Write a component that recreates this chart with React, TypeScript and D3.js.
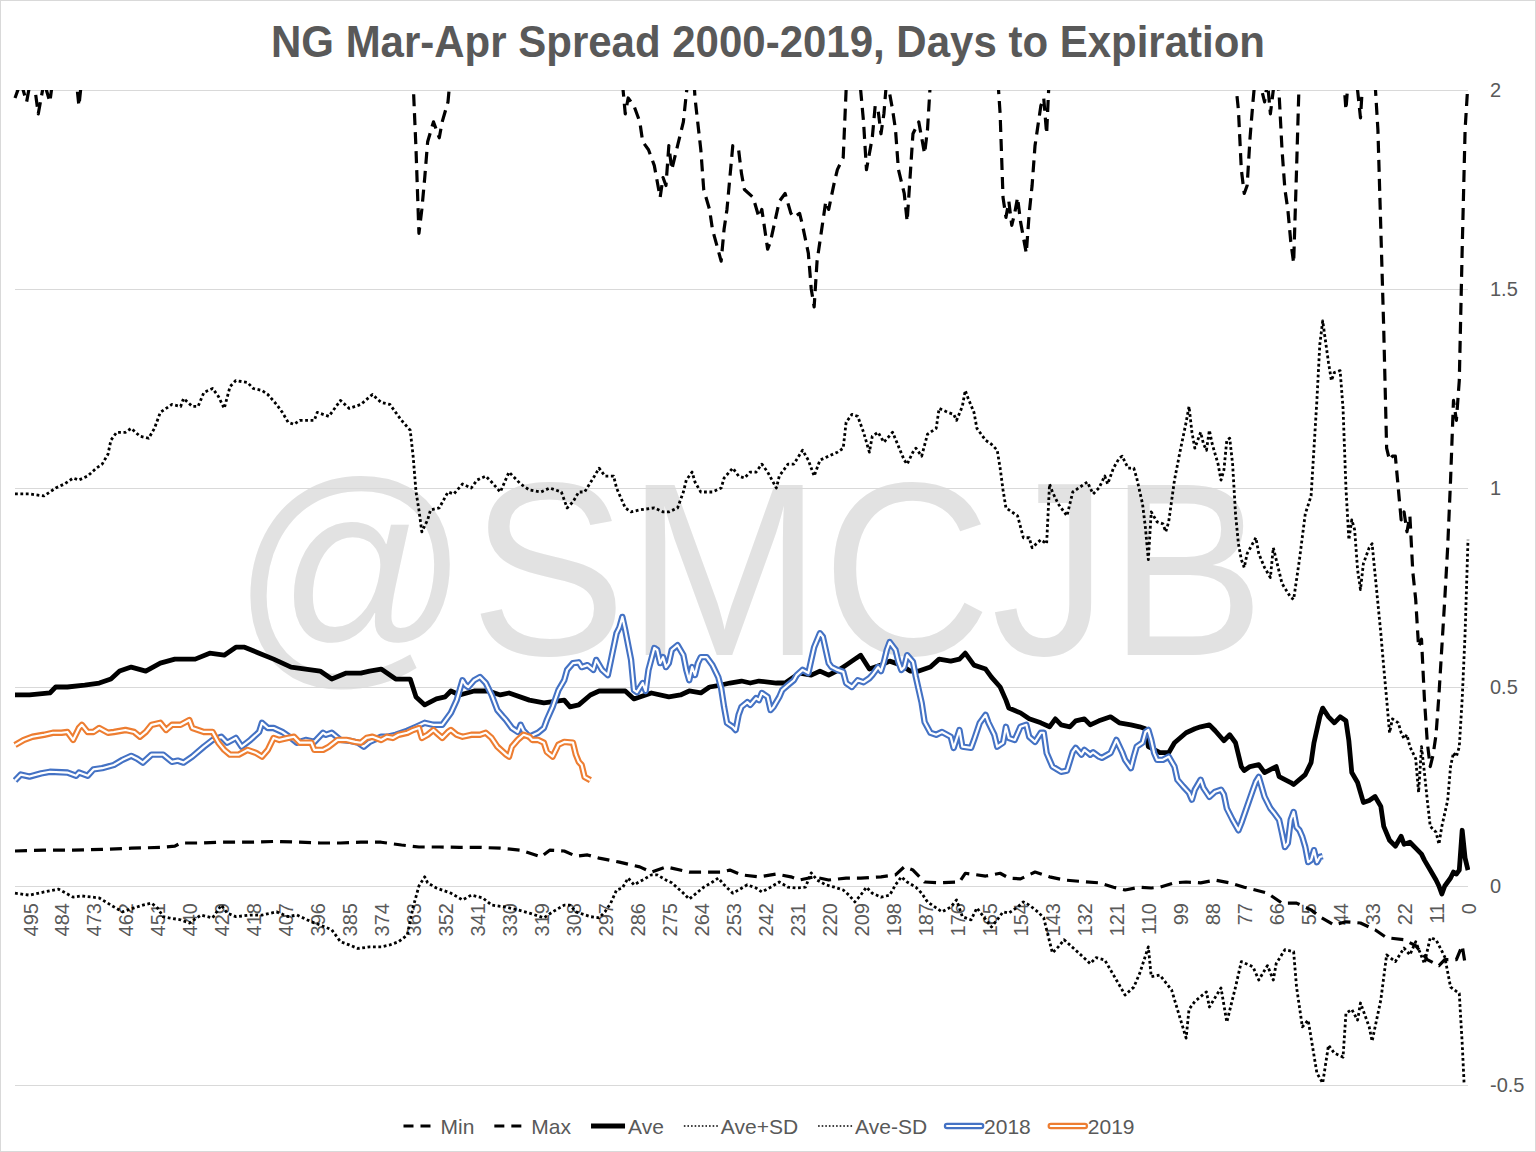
import React, { useEffect, useRef } from 'react';
import * as d3 from 'd3';

type Pt = [number, number];

// days to expiration shown on the category axis
const dayTicks = [495, 484, 473, 462, 451, 440, 429, 418, 407, 396, 385, 374, 363, 352, 341, 330, 319, 308, 297, 286, 275, 264, 253, 242, 231, 220, 209, 198, 187, 176, 165, 154, 143, 132, 121, 110, 99, 88, 77, 66, 55, 44, 33, 22, 11, 0];
const valueTicks = [2, 1.5, 1, 0.5, 0, -0.5];

// [days to expiration, spread]
const minSeries: Pt[] = [
  [500, 0.088], [490, 0.09], [480, 0.09], [470, 0.092], [460, 0.095], [450, 0.097], [445, 0.1], [443, 0.108], [436, 0.108], [430, 0.11],
  [420, 0.11], [410, 0.112], [402, 0.11], [395, 0.108], [388, 0.108], [381, 0.11], [374, 0.11], [367, 0.103], [361, 0.098], [354, 0.098],
  [347, 0.097], [340, 0.097], [333, 0.095], [326, 0.09], [319, 0.073], [316, 0.09], [311, 0.088], [307, 0.075], [303, 0.078], [299, 0.07],
  [292, 0.06], [285, 0.048], [281, 0.035], [276, 0.048], [268, 0.035], [257, 0.035], [254, 0.04], [250, 0.028], [244, 0.023], [238, 0.03],
  [233, 0.023], [230, 0.015], [225, 0.023], [220, 0.015], [214, 0.02], [209, 0.02], [202, 0.023], [197, 0.028], [194, 0.048], [191, 0.04],
  [187, 0.01], [182, 0.008], [175, 0.01], [173, 0.032], [166, 0.025], [161, 0.032], [158, 0.02], [154, 0.018], [149, 0.035], [144, 0.023],
  [139, 0.015], [134, 0.012], [127, 0.008], [122, -0.003], [118, -0.01], [113, -0.003], [109, -0.005], [106, -0.003], [101, 0.008], [97, 0.01],
  [92, 0.008], [87, 0.015], [82, 0.008], [77, -0.003], [69, -0.018], [64, -0.043], [59, -0.043], [54, -0.06], [51, -0.077], [46, -0.098],
  [42, -0.09], [37, -0.093], [32, -0.11], [28, -0.13], [22, -0.135], [18, -0.15], [14, -0.185], [10, -0.2], [8, -0.185], [4, -0.185],
  [2, -0.15], [1, -0.195], [0, -0.2],
];

const maxSeries: Pt[] = [
  [500, 1.98], [498, 2.02], [496, 1.97], [494, 2.05], [492, 1.94], [490, 2.02], [488, 1.97], [486, 2.08], [483, 2.15], [480, 2.1],
  [478, 1.96], [476, 2.1], [470, 2.3], [460, 2.4], [450, 2.5], [440, 2.45], [430, 2.6], [420, 2.5], [410, 2.4], [400, 2.45],
  [390, 2.35], [380, 2.3], [372, 2.2], [367, 2.1], [365, 2.15], [364, 2.0], [363, 2.02], [362, 1.85], [361, 1.64], [360, 1.7],
  [359, 1.78], [358, 1.87], [356, 1.92], [354, 1.88], [353, 1.92], [351, 1.97], [350, 2.05], [348, 2.2], [340, 2.4], [330, 2.5],
  [320, 2.4], [310, 2.45], [300, 2.3], [294, 2.1], [291, 2.02], [290, 1.94], [289, 1.98], [287, 1.96], [285, 1.92], [284, 1.87],
  [282, 1.85], [280, 1.81], [278, 1.73], [277, 1.78], [276, 1.76], [275, 1.86], [274, 1.8], [272, 1.86], [270, 1.92], [269, 1.99],
  [268, 2.05], [267, 2.1], [266, 1.98], [264, 1.85], [263, 1.75], [261, 1.7], [260, 1.65], [257, 1.57], [256, 1.65], [255, 1.7],
  [253, 1.86], [251, 1.85], [250, 1.79], [249, 1.75], [246, 1.73], [244, 1.68], [243, 1.7], [241, 1.6], [240, 1.62], [237, 1.72],
  [235, 1.74], [233, 1.69], [232, 1.68], [230, 1.69], [229, 1.66], [227, 1.59], [226, 1.5], [225, 1.455], [224, 1.57], [222, 1.67],
  [221, 1.72], [220, 1.7], [218, 1.77], [217, 1.8], [215, 1.83], [214, 2.0], [213, 2.15], [211, 2.2], [210, 2.05], [209, 2.0],
  [208, 1.92], [207, 1.8], [205, 1.88], [204, 1.96], [203, 1.95], [202, 1.89], [201, 1.94], [200, 2.03], [198, 1.95], [197, 1.9],
  [196, 1.8], [194, 1.74], [193, 1.67], [192, 1.78], [191, 1.89], [189, 1.92], [188, 1.88], [187, 1.84], [186, 1.9], [185, 2.02],
  [183, 2.2], [175, 2.4], [168, 2.3], [163, 2.1], [162, 2.05], [161, 1.94], [160, 1.73], [159, 1.68], [158, 1.72], [157, 1.66],
  [156, 1.69], [155, 1.73], [154, 1.67], [152, 1.59], [151, 1.69], [150, 1.76], [149, 1.86], [148, 1.91], [147, 1.96], [146, 1.98],
  [145, 1.89], [144, 2.05], [140, 2.2], [130, 2.4], [120, 2.5], [110, 2.4], [100, 2.5], [90, 2.35], [82, 2.15], [80, 2.02],
  [79, 1.95], [78, 1.8], [77, 1.74], [76, 1.76], [75, 1.88], [74, 1.97], [73, 2.05], [72, 2.1], [71, 2.0], [70, 1.97],
  [69, 2.02], [68, 1.94], [67, 2.0], [66, 2.05], [65, 1.99], [64, 1.85], [63, 1.75], [62, 1.7], [61, 1.62], [60, 1.565],
  [59, 1.8], [58, 2.05], [55, 2.2], [50, 2.3], [45, 2.15], [43, 2.05], [42, 1.95], [41, 2.05], [40, 2.1], [38, 2.0],
  [37, 1.93], [36, 2.05], [34, 2.15], [32, 2.02], [31, 1.9], [30, 1.65], [29, 1.4], [28, 1.1], [27, 1.07], [26, 1.08],
  [25, 1.08], [24, 1.0], [23, 0.92], [22, 0.94], [21, 0.89], [20, 0.93], [19, 0.79], [18, 0.72], [17, 0.6], [16, 0.62],
  [15, 0.47], [14, 0.36], [13, 0.3], [12, 0.33], [11, 0.38], [10, 0.48], [9, 0.6], [8, 0.72], [7, 0.85], [6, 1.02],
  [5, 1.22], [4, 1.17], [3, 1.27], [2, 1.6], [1, 1.9], [0, 2.02],
];

const aveSeries: Pt[] = [
  [500, 0.48], [495, 0.48], [488, 0.485], [486, 0.5], [482, 0.5], [476, 0.505], [471, 0.51], [467, 0.52], [464, 0.54], [460, 0.55],
  [455, 0.54], [450, 0.56], [445, 0.57], [438, 0.57], [433, 0.585], [428, 0.58], [424, 0.6], [421, 0.6], [416, 0.585], [411, 0.57],
  [405, 0.55], [400, 0.545], [395, 0.54], [391, 0.52], [386, 0.535], [381, 0.535], [378, 0.54], [374, 0.545], [369, 0.52], [364, 0.52],
  [362, 0.475], [359, 0.455], [355, 0.47], [352, 0.475], [350, 0.49], [347, 0.48], [342, 0.49], [337, 0.49], [333, 0.48], [330, 0.485],
  [323, 0.467], [318, 0.46], [311, 0.467], [309, 0.45], [306, 0.455], [302, 0.48], [299, 0.49], [290, 0.49], [287, 0.47], [281, 0.485],
  [275, 0.475], [271, 0.48], [268, 0.49], [264, 0.485], [261, 0.5], [257, 0.505], [254, 0.51], [250, 0.515], [247, 0.51], [244, 0.515],
  [238, 0.51], [235, 0.51], [232, 0.525], [230, 0.535], [226, 0.53], [223, 0.54], [220, 0.53], [216, 0.545], [214, 0.555], [211, 0.57],
  [209, 0.58], [206, 0.545], [202, 0.555], [199, 0.565], [195, 0.555], [192, 0.54], [189, 0.54], [185, 0.55], [182, 0.57], [178, 0.565],
  [175, 0.57], [173, 0.585], [170, 0.555], [166, 0.545], [164, 0.525], [161, 0.5], [159, 0.467], [158, 0.447], [154, 0.435], [151, 0.42],
  [147, 0.41], [144, 0.4], [142, 0.42], [140, 0.405], [137, 0.4], [135, 0.415], [132, 0.42], [130, 0.405], [127, 0.415], [123, 0.425],
  [120, 0.41], [116, 0.405], [113, 0.4], [111, 0.395], [110, 0.35], [106, 0.335], [103, 0.335], [101, 0.36], [97, 0.385], [94, 0.395],
  [92, 0.4], [89, 0.405], [87, 0.39], [84, 0.365], [82, 0.38], [80, 0.36], [78, 0.3], [77, 0.29], [75, 0.3], [72, 0.305],
  [70, 0.285], [66, 0.3], [65, 0.275], [61, 0.26], [60, 0.255], [56, 0.28], [54, 0.31], [53, 0.36], [51, 0.425], [50, 0.447],
  [48, 0.425], [46, 0.41], [44, 0.425], [42, 0.415], [41, 0.365], [40, 0.285], [38, 0.26], [36, 0.21], [34, 0.215], [32, 0.225],
  [30, 0.2], [29, 0.15], [27, 0.115], [25, 0.1], [23, 0.125], [22, 0.105], [20, 0.11], [18, 0.095], [16, 0.08], [15, 0.065],
  [13, 0.04], [11, 0.015], [10, 0.0], [9, -0.02], [8, 0.0], [7, 0.01], [6, 0.02], [5, 0.035], [4, 0.03], [3, 0.04],
  [2, 0.14], [1, 0.07], [0, 0.04],
];

const avePlusSd: Pt[] = [
  [500, 0.985], [495, 0.985], [490, 0.98], [486, 1.0], [483, 1.01], [480, 1.025], [478, 1.02], [475, 1.03], [472, 1.05], [470, 1.06],
  [468, 1.085], [467, 1.12], [465, 1.14], [462, 1.14], [460, 1.15], [457, 1.13], [454, 1.125], [452, 1.15], [450, 1.19], [448, 1.2],
  [446, 1.21], [443, 1.205], [442, 1.225], [439, 1.205], [437, 1.205], [435, 1.24], [432, 1.25], [430, 1.23], [428, 1.2], [426, 1.255],
  [424, 1.27], [420, 1.265], [418, 1.25], [415, 1.245], [413, 1.235], [410, 1.21], [408, 1.19], [406, 1.165], [404, 1.16], [402, 1.17],
  [397, 1.17], [396, 1.19], [392, 1.18], [388, 1.22], [385, 1.2], [381, 1.21], [377, 1.235], [374, 1.215], [371, 1.21], [369, 1.19],
  [367, 1.17], [364, 1.145], [363, 1.08], [362, 0.99], [361, 0.945], [360, 0.89], [358, 0.92], [357, 0.945], [354, 0.95], [351, 0.99],
  [349, 0.985], [346, 1.01], [343, 1.0], [341, 1.02], [338, 1.03], [336, 1.015], [333, 0.99], [330, 1.04], [326, 1.01], [323, 0.995],
  [319, 0.99], [316, 1.0], [312, 0.99], [310, 0.95], [308, 0.965], [306, 0.99], [304, 0.99], [301, 1.025], [299, 1.05], [297, 1.03],
  [294, 1.03], [293, 1.0], [290, 0.95], [288, 0.94], [285, 0.945], [280, 0.95], [277, 0.94], [275, 0.94], [272, 0.95], [270, 0.99],
  [269, 1.02], [267, 1.04], [266, 1.015], [264, 0.99], [260, 0.99], [257, 1.0], [256, 1.025], [253, 1.05], [251, 1.03], [249, 1.025],
  [247, 1.04], [245, 1.04], [243, 1.06], [241, 1.04], [238, 1.0], [237, 1.03], [234, 1.06], [232, 1.06], [229, 1.095], [227, 1.07],
  [225, 1.03], [223, 1.07], [220, 1.08], [217, 1.09], [215, 1.1], [214, 1.165], [212, 1.185], [210, 1.18], [208, 1.14], [206, 1.09],
  [205, 1.13], [203, 1.14], [201, 1.115], [198, 1.14], [196, 1.105], [194, 1.07], [193, 1.06], [191, 1.09], [190, 1.1], [188, 1.08],
  [186, 1.135], [183, 1.15], [182, 1.2], [179, 1.19], [177, 1.185], [176, 1.17], [174, 1.205], [173, 1.245], [172, 1.225], [170, 1.19],
  [169, 1.15], [166, 1.12], [164, 1.11], [162, 1.095], [161, 1.05], [160, 0.995], [159, 0.95], [157, 0.94], [155, 0.93], [153, 0.875],
  [151, 0.875], [150, 0.85], [147, 0.87], [145, 0.86], [144, 1.01], [143, 0.99], [141, 0.96], [138, 0.93], [136, 0.99], [134, 1.0],
  [131, 1.015], [129, 0.985], [127, 1.0], [125, 1.03], [124, 1.01], [122, 1.05], [120, 1.075], [119, 1.08], [117, 1.05], [115, 1.05],
  [114, 1.025], [112, 0.96], [111, 0.9], [110, 0.82], [109, 0.94], [107, 0.915], [105, 0.91], [104, 0.89], [103, 0.915], [101, 1.02],
  [99, 1.095], [97, 1.165], [96, 1.205], [95, 1.14], [94, 1.1], [92, 1.14], [91, 1.11], [90, 1.095], [89, 1.145], [88, 1.11],
  [86, 1.06], [85, 1.02], [84, 1.045], [83, 1.12], [82, 1.125], [81, 1.06], [80, 0.935], [79, 0.86], [78, 0.82], [77, 0.8],
  [76, 0.835], [73, 0.875], [72, 0.835], [70, 0.8], [68, 0.775], [67, 0.85], [66, 0.82], [64, 0.76], [61, 0.725], [60, 0.72],
  [58, 0.82], [56, 0.935], [54, 0.98], [53, 1.1], [52, 1.22], [51, 1.36], [50, 1.42], [48, 1.315], [47, 1.27], [46, 1.29],
  [44, 1.295], [43, 1.2], [42, 1.0], [41, 0.87], [40, 0.92], [39, 0.895], [38, 0.795], [37, 0.745], [36, 0.81], [34, 0.85],
  [33, 0.86], [32, 0.785], [31, 0.71], [30, 0.635], [29, 0.55], [28, 0.47], [27, 0.385], [26, 0.42], [24, 0.41], [23, 0.385],
  [22, 0.37], [21, 0.38], [20, 0.35], [18, 0.32], [17, 0.235], [16, 0.35], [15, 0.285], [14, 0.215], [13, 0.15], [11, 0.135],
  [10, 0.105], [9, 0.15], [7, 0.215], [6, 0.3], [5, 0.335], [4, 0.325], [3, 0.35], [2, 0.47], [1, 0.635], [0, 0.87],
];

const aveMinusSd: Pt[] = [
  [500, -0.018], [495, -0.023], [490, -0.015], [485, -0.008], [480, -0.028], [477, -0.025], [471, -0.03], [467, -0.048], [463, -0.065], [459, -0.055],
  [456, -0.048], [453, -0.043], [451, -0.055], [449, -0.077], [447, -0.08], [443, -0.085], [440, -0.093], [436, -0.073], [432, -0.08], [429, -0.048],
  [427, -0.068], [424, -0.077], [419, -0.073], [415, -0.073], [410, -0.065], [406, -0.077], [403, -0.073], [398, -0.09], [395, -0.098], [391, -0.11],
  [388, -0.14], [385, -0.148], [382, -0.157], [378, -0.153], [374, -0.153], [371, -0.148], [368, -0.14], [365, -0.123], [363, -0.053], [361, 0.0],
  [359, 0.023], [358, 0.008], [355, -0.005], [350, -0.018], [346, -0.035], [343, -0.023], [339, -0.03], [336, -0.048], [331, -0.053], [327, -0.06],
  [323, -0.068], [318, -0.08], [315, -0.065], [311, -0.048], [309, -0.048], [307, -0.065], [302, -0.077], [299, -0.08], [297, -0.065], [295, -0.043],
  [293, -0.01], [291, -0.005], [289, 0.02], [287, 0.003], [284, 0.015], [281, 0.028], [279, 0.028], [276, 0.015], [274, 0.008], [272, -0.005],
  [270, -0.018], [268, -0.033], [265, -0.015], [263, -0.003], [260, 0.01], [258, 0.02], [256, 0.003], [253, -0.018], [251, -0.01], [248, 0.003],
  [245, -0.005], [243, -0.015], [240, -0.003], [237, 0.01], [234, -0.003], [231, -0.005], [228, -0.003], [226, 0.033], [224, 0.015], [221, 0.003],
  [218, -0.003], [215, -0.01], [213, -0.023], [211, -0.04], [209, -0.023], [207, -0.003], [205, -0.018], [202, -0.028], [199, -0.023], [197, 0.003],
  [195, 0.023], [193, 0.01], [190, -0.003], [188, -0.018], [186, -0.04], [183, -0.055], [181, -0.065], [178, -0.053], [176, -0.035], [174, -0.077],
  [171, -0.085], [169, -0.055], [164, -0.103], [162, -0.085], [160, -0.065], [158, -0.068], [155, -0.053], [153, -0.04], [151, -0.048], [148, -0.065],
  [146, -0.08], [145, -0.11], [143, -0.168], [141, -0.153], [139, -0.135], [134, -0.168], [130, -0.195], [128, -0.18], [125, -0.186], [121, -0.236],
  [118, -0.274], [115, -0.254], [113, -0.22], [110, -0.153], [109, -0.228], [106, -0.224], [102, -0.261], [100, -0.31], [97, -0.382], [96, -0.31],
  [94, -0.29], [90, -0.266], [89, -0.304], [85, -0.256], [83, -0.342], [80, -0.254], [78, -0.19], [74, -0.203], [72, -0.236], [69, -0.2],
  [67, -0.236], [66, -0.195], [63, -0.16], [60, -0.165], [59, -0.254], [57, -0.354], [55, -0.337], [52, -0.47], [50, -0.495], [48, -0.4],
  [46, -0.42], [43, -0.43], [42, -0.32], [40, -0.31], [38, -0.337], [37, -0.294], [34, -0.354], [33, -0.39], [30, -0.286], [28, -0.173],
  [25, -0.19], [22, -0.156], [20, -0.173], [18, -0.14], [15, -0.195], [13, -0.13], [11, -0.135], [8, -0.178], [6, -0.254], [3, -0.27],
  [2, -0.395], [1, -0.55], [0, -0.79],
];

const y2018: Pt[] = [
  [500, 0.265], [498, 0.28], [495, 0.275], [491, 0.283], [488, 0.287], [482, 0.285], [479, 0.277], [478, 0.285], [475, 0.277], [473, 0.293],
  [470, 0.296], [466, 0.304], [463, 0.317], [460, 0.327], [458, 0.32], [456, 0.31], [453, 0.33], [449, 0.33], [446, 0.312], [444, 0.315],
  [442, 0.31], [439, 0.325], [435, 0.35], [432, 0.367], [429, 0.375], [427, 0.36], [424, 0.372], [422, 0.35], [419, 0.367], [416, 0.387],
  [415, 0.41], [413, 0.397], [411, 0.397], [408, 0.387], [405, 0.372], [403, 0.36], [400, 0.367], [397, 0.362], [394, 0.385], [393, 0.38],
  [391, 0.385], [388, 0.367], [385, 0.365], [382, 0.36], [380, 0.35], [378, 0.362], [374, 0.375], [372, 0.375], [369, 0.38], [365, 0.39],
  [362, 0.4], [359, 0.41], [356, 0.405], [353, 0.405], [350, 0.435], [348, 0.467], [346, 0.517], [345, 0.505], [344, 0.5], [342, 0.517],
  [340, 0.525], [338, 0.51], [336, 0.48], [334, 0.442], [332, 0.425], [331, 0.417], [329, 0.397], [327, 0.387], [326, 0.405], [325, 0.39],
  [323, 0.375], [320, 0.385], [318, 0.397], [317, 0.417], [315, 0.45], [313, 0.492], [311, 0.517], [310, 0.543], [308, 0.56], [306, 0.562],
  [305, 0.55], [303, 0.555], [301, 0.543], [300, 0.568], [298, 0.543], [296, 0.53], [294, 0.6], [293, 0.635], [292, 0.65], [291, 0.676],
  [290, 0.643], [288, 0.568], [287, 0.492], [286, 0.487], [284, 0.51], [283, 0.49], [282, 0.543], [280, 0.598], [279, 0.593], [278, 0.56],
  [277, 0.575], [276, 0.55], [275, 0.56], [274, 0.593], [272, 0.605], [270, 0.58], [269, 0.543], [268, 0.517], [267, 0.55], [266, 0.53],
  [265, 0.56], [264, 0.575], [262, 0.575], [260, 0.555], [258, 0.525], [257, 0.497], [256, 0.45], [255, 0.41], [253, 0.4], [252, 0.392],
  [251, 0.43], [250, 0.45], [248, 0.462], [247, 0.455], [245, 0.472], [244, 0.467], [243, 0.485], [241, 0.475], [240, 0.442], [239, 0.45],
  [237, 0.475], [236, 0.492], [234, 0.505], [232, 0.517], [231, 0.53], [229, 0.543], [227, 0.535], [226, 0.568], [225, 0.6], [223, 0.635],
  [222, 0.626], [221, 0.593], [220, 0.56], [219, 0.55], [217, 0.543], [215, 0.538], [214, 0.51], [212, 0.5], [210, 0.517], [208, 0.512],
  [206, 0.522], [205, 0.53], [203, 0.55], [202, 0.54], [201, 0.563], [200, 0.593], [199, 0.613], [197, 0.593], [196, 0.563], [195, 0.543],
  [194, 0.55], [193, 0.58], [191, 0.563], [190, 0.525], [188, 0.46], [187, 0.412], [185, 0.385], [183, 0.38], [181, 0.387], [178, 0.375],
  [177, 0.347], [175, 0.392], [174, 0.35], [171, 0.347], [170, 0.367], [168, 0.41], [166, 0.43], [165, 0.41], [163, 0.38], [162, 0.35],
  [160, 0.36], [159, 0.4], [158, 0.372], [156, 0.367], [154, 0.4], [152, 0.405], [151, 0.375], [149, 0.362], [147, 0.385], [146, 0.385],
  [145, 0.334], [143, 0.3], [140, 0.287], [138, 0.29], [136, 0.337], [135, 0.347], [133, 0.33], [132, 0.342], [130, 0.33], [129, 0.336],
  [127, 0.325], [126, 0.322], [124, 0.33], [123, 0.334], [121, 0.367], [119, 0.336], [118, 0.317], [116, 0.296], [115, 0.325], [114, 0.35],
  [112, 0.36], [111, 0.387], [110, 0.392], [109, 0.367], [108, 0.334], [107, 0.317], [105, 0.317], [103, 0.325], [101, 0.3], [100, 0.267],
  [98, 0.25], [96, 0.234], [95, 0.217], [94, 0.242], [92, 0.267], [91, 0.246], [89, 0.224], [87, 0.237], [85, 0.242], [84, 0.23],
  [83, 0.195], [81, 0.166], [79, 0.14], [78, 0.158], [76, 0.2], [74, 0.242], [73, 0.262], [72, 0.274], [70, 0.224], [68, 0.195],
  [67, 0.186], [65, 0.166], [64, 0.133], [63, 0.098], [62, 0.108], [61, 0.166], [60, 0.186], [59, 0.148], [58, 0.14], [57, 0.123],
  [56, 0.098], [55, 0.06], [54, 0.065], [53, 0.09], [52, 0.06], [51, 0.073], [50, 0.075],
];

const y2019: Pt[] = [
  [500, 0.354], [497, 0.367], [494, 0.375], [490, 0.38], [487, 0.385], [484, 0.385], [482, 0.387], [480, 0.367], [478, 0.397], [477, 0.405],
  [475, 0.387], [473, 0.387], [471, 0.397], [468, 0.385], [466, 0.387], [462, 0.392], [459, 0.387], [457, 0.375], [455, 0.387], [453, 0.405],
  [450, 0.41], [448, 0.392], [446, 0.405], [443, 0.405], [440, 0.417], [439, 0.397], [435, 0.387], [432, 0.387], [430, 0.36], [428, 0.342],
  [426, 0.33], [423, 0.33], [420, 0.342], [417, 0.334], [415, 0.325], [413, 0.342], [411, 0.372], [409, 0.367], [406, 0.372], [404, 0.375],
  [402, 0.36], [398, 0.36], [397, 0.342], [394, 0.342], [392, 0.35], [389, 0.367], [386, 0.367], [383, 0.362], [381, 0.36], [379, 0.372],
  [377, 0.375], [374, 0.367], [372, 0.375], [370, 0.372], [368, 0.38], [365, 0.385], [363, 0.392], [361, 0.397], [360, 0.372], [358, 0.38],
  [356, 0.392], [355, 0.385], [353, 0.372], [351, 0.387], [350, 0.392], [348, 0.38], [346, 0.375], [343, 0.38], [340, 0.38], [338, 0.385],
  [336, 0.372], [334, 0.35], [331, 0.33], [330, 0.325], [329, 0.35], [327, 0.367], [325, 0.38], [323, 0.375], [322, 0.367], [320, 0.367],
  [318, 0.36], [317, 0.337], [315, 0.325], [313, 0.355], [311, 0.362], [308, 0.36], [307, 0.33], [306, 0.312], [305, 0.304], [304, 0.274],
  [302, 0.266],
];

const legendLabels = ['Min', 'Max', 'Ave', 'Ave+SD', 'Ave-SD', '2018', '2019'];

const FONT = '"Liberation Sans", Arial, sans-serif';
const TEXT = '#595959';
const GRID = '#d9d9d9';

interface SeriesStyle {
  data: Pt[];
  color: string;
  width: number;
  dash?: string;
  inner?: number;
  legendWidth: number;
  legendDash?: string;
}

const styles: SeriesStyle[] = [
  { data: minSeries, color: '#000', width: 3.2, dash: '12 7', legendWidth: 3, legendDash: '10 7' },
  { data: maxSeries, color: '#000', width: 3.2, dash: '12 7', legendWidth: 3, legendDash: '10 7' },
  { data: aveSeries, color: '#000', width: 4.8, legendWidth: 4.8 },
  { data: avePlusSd, color: '#000', width: 2.8, dash: '2.8 2.6', legendWidth: 1.6, legendDash: '1.6 2' },
  { data: aveMinusSd, color: '#000', width: 2.8, dash: '2.8 2.6', legendWidth: 1.6, legendDash: '1.6 2' },
  { data: y2018, color: '#4472C4', width: 6.4, inner: 2.2, legendWidth: 6.5 },
  { data: y2019, color: '#ED7D31', width: 6.4, inner: 2.2, legendWidth: 6.5 },
];

export default function App() {
  const svgRef = useRef<SVGSVGElement>(null);

  useEffect(() => {
    if (!svgRef.current) return;
    const W = 1536;
    const H = 1152;
    const plot = { left: 15, right: 1468, top: 90, bottom: 1085 };

    const svg = d3.select(svgRef.current);
    svg.selectAll('*').remove();

    svg.append('rect').attr('width', W).attr('height', H).attr('fill', '#fff');
    svg.append('rect')
      .attr('x', 0.5).attr('y', 0.5).attr('width', W - 1).attr('height', H - 1)
      .attr('fill', 'none').attr('stroke', GRID);

    const x = d3.scaleLinear().domain([500, 0]).range([plot.left, plot.right]);
    const y = d3.scaleLinear().domain([-0.5, 2]).range([plot.bottom, plot.top]);

    // Title
    svg.append('text')
      .attr('x', 768).attr('y', 57)
      .attr('text-anchor', 'middle')
      .attr('font-family', FONT).attr('font-size', 44).attr('font-weight', 'bold')
      .attr('fill', TEXT)
      .attr('textLength', 994).attr('lengthAdjust', 'spacingAndGlyphs')
      .text('NG Mar-Apr Spread 2000-2019, Days to Expiration');

    // Watermark
    svg.append('text')
      .attr('x', 232).attr('y', 655)
      .attr('font-family', FONT).attr('font-size', 246)
      .attr('fill', '#e2e2e2')
      .attr('textLength', 1033).attr('lengthAdjust', 'spacingAndGlyphs')
      .text('@SMCJB');

    // Grid lines
    svg.append('g').selectAll('line')
      .data(valueTicks)
      .enter().append('line')
      .attr('x1', plot.left).attr('x2', plot.right)
      .attr('y1', d => Math.round(y(d)) + 0.5).attr('y2', d => Math.round(y(d)) + 0.5)
      .attr('stroke', GRID).attr('stroke-width', 1);

    // Right value axis labels
    svg.append('g').selectAll('text')
      .data(valueTicks)
      .enter().append('text')
      .attr('x', 1490).attr('y', d => y(d) + 7)
      .attr('font-family', FONT).attr('font-size', 20).attr('fill', TEXT)
      .text(d => String(d));

    // Day labels, rotated
    svg.append('g').selectAll('text')
      .data(dayTicks)
      .enter().append('text')
      .attr('transform', d => `translate(${x(d) + 1},903) rotate(-90)`)
      .attr('text-anchor', 'end')
      .attr('dominant-baseline', 'central')
      .attr('font-family', FONT).attr('font-size', 20).attr('fill', TEXT)
      .text(d => String(d));

    // Series
    svg.append('clipPath').attr('id', 'plot-clip')
      .append('rect')
      .attr('x', plot.left - 2).attr('y', plot.top)
      .attr('width', plot.right - plot.left + 4).attr('height', plot.bottom - plot.top);

    const line = d3.line<Pt>().x(d => x(d[0])).y(d => y(d[1]));
    const series = svg.append('g').attr('clip-path', 'url(#plot-clip)');

    styles.forEach(s => {
      series.append('path')
        .attr('d', line(s.data))
        .attr('fill', 'none')
        .attr('stroke', s.color)
        .attr('stroke-width', s.width)
        .attr('stroke-dasharray', s.dash ?? null)
        .attr('stroke-linejoin', 'round');
      if (s.inner) {
        series.append('path')
          .attr('d', line(s.data))
          .attr('fill', 'none')
          .attr('stroke', '#fff')
          .attr('stroke-width', s.inner)
          .attr('stroke-linejoin', 'round');
      }
    });

    // Legend
    const legend = svg.append('g');
    const ly = 1126;
    const symW = 34;
    const items = legendLabels.map((label, i) => {
      const g = legend.append('g');
      const s = styles[i];
      g.append('line')
        .attr('x1', 0).attr('x2', symW).attr('y1', ly).attr('y2', ly)
        .attr('stroke', s.color).attr('stroke-width', s.legendWidth)
        .attr('stroke-linecap', s.inner ? 'round' : 'butt')
        .attr('stroke-dasharray', s.legendDash ?? null);
      if (s.inner) {
        g.append('line')
          .attr('x1', 0).attr('x2', symW).attr('y1', ly).attr('y2', ly)
          .attr('stroke', '#fff').attr('stroke-width', 2.2)
          .attr('stroke-linecap', 'round');
      }
      const t = g.append('text')
        .attr('x', symW + 3).attr('y', ly)
        .attr('dominant-baseline', 'central')
        .attr('font-family', FONT).attr('font-size', 21).attr('fill', TEXT)
        .text(label);
      const w = symW + 3 + (t.node() as SVGTextElement).getComputedTextLength();
      return { g, w };
    });
    const gap = 20;
    const total = d3.sum(items, d => d.w) + gap * (items.length - 1);
    let cx = 769 - total / 2;
    items.forEach(it => {
      it.g.attr('transform', `translate(${cx},0)`);
      cx += it.w + gap;
    });
  }, []);

  return (
    <svg
      ref={svgRef}
      width={1536}
      height={1152}
      style={{ position: 'absolute', left: 0, top: 0, display: 'block' }}
    />
  );
}
